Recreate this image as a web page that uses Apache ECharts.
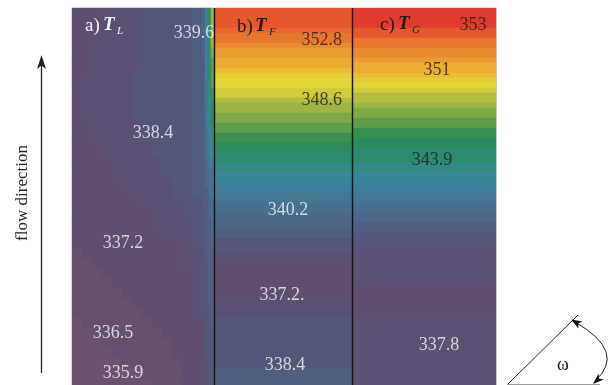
<!DOCTYPE html>
<html>
<head>
<meta charset="utf-8">
<script src="https://cdn.jsdelivr.net/npm/echarts@6/dist/echarts.min.js"></script>
<style>
html, body { margin: 0; padding: 0; background: #ffffff; }
#chart { width: 611px; height: 385px; }
</style>
</head>
<body>
<div id="chart"></div>
<script>
// Contour levels (K) and the fill colour of each band, lowest band first.
const levelEdges = [330, 336.3, 336.9, 337.6, 338.3, 339.0, 339.7, 340.1, 340.7, 341.3,
  342.0, 342.8, 343.6, 344.4, 345.2, 346.0, 346.8, 347.5, 348.2, 348.8,
  349.3, 349.8, 350.3, 350.8, 351.3, 351.8, 352.3, 352.85, 352.9, 352.95, 360];
const levelColors = ['#6e5170', '#674f70', '#604e72', '#5a5175', '#54577a', '#505e82',
  '#4c6789', '#486f90', '#437795', '#3e7f9d', '#37879b', '#318a88', '#2d8b72', '#2d8c5e',
  '#3a914f', '#5e9e4b', '#7fa947', '#9bb443', '#b4bd40', '#cfcb3b', '#e3d636', '#e6cc34',
  '#e9bd32', '#ebac31', '#eb9c30', '#ea8a2f', '#e8772e', '#e7672e', '#e5582e', '#e03c2e'];

// T_L: liquid temperature, rows from top of the channel downward, columns left to right.
const fieldL = [
  [337.1, 337.3, 337.5, 337.7, 337.8, 338.0, 338.2, 338.4, 338.5, 338.6, 338.7, 338.9, 339.2],
  [337.1, 337.3, 337.5, 337.7, 337.8, 338.0, 338.2, 338.4, 338.5, 338.6, 338.7, 338.9, 339.3],
  [337.1, 337.3, 337.5, 337.7, 337.8, 338.0, 338.2, 338.4, 338.5, 338.6, 338.7, 338.9, 339.6],
  [337.2, 337.5, 337.7, 337.8, 337.9, 338.0, 338.2, 338.4, 338.5, 338.6, 338.7, 338.9, 339.2],
  [337.2, 337.5, 337.7, 337.8, 337.9, 338.0, 338.2, 338.4, 338.5, 338.6, 338.7, 338.9, 339.2],
  [337.2, 337.5, 337.7, 337.8, 337.9, 338.1, 338.2, 338.4, 338.5, 338.6, 338.7, 338.9, 339.2],
  [337.2, 337.5, 337.7, 337.8, 338.0, 338.2, 338.3, 338.4, 338.5, 338.6, 338.7, 338.9, 339.2],
  [337.4, 337.6, 337.7, 337.8, 338.0, 338.2, 338.3, 338.4, 338.5, 338.6, 338.7, 338.9, 339.1],
  [337.4, 337.6, 337.7, 337.8, 338.0, 338.2, 338.3, 338.4, 338.5, 338.6, 338.7, 338.9, 339.1],
  [337.4, 337.6, 337.7, 337.8, 338.0, 338.2, 338.3, 338.4, 338.5, 338.6, 338.7, 338.9, 339.1],
  [337.4, 337.6, 337.7, 337.8, 338.0, 338.1, 338.3, 338.4, 338.5, 338.6, 338.7, 338.9, 339.1],
  [337.3, 337.5, 337.7, 337.8, 337.9, 338.1, 338.2, 338.4, 338.5, 338.6, 338.7, 338.9, 339.1],
  [337.3, 337.5, 337.7, 337.8, 337.9, 338.1, 338.2, 338.3, 338.4, 338.6, 338.7, 338.9, 339.1],
  [337.1, 337.3, 337.5, 337.7, 337.8, 337.9, 338.1, 338.2, 338.4, 338.5, 338.6, 338.8, 339.1],
  [337.1, 337.3, 337.5, 337.7, 337.8, 337.9, 338.1, 338.2, 338.4, 338.5, 338.6, 338.8, 339.1],
  [337.0, 337.2, 337.4, 337.5, 337.7, 337.8, 338.0, 338.1, 338.2, 338.4, 338.5, 338.7, 339.0],
  [337.0, 337.2, 337.4, 337.5, 337.7, 337.8, 338.0, 338.1, 338.2, 338.4, 338.5, 338.7, 339.0],
  [337.0, 337.1, 337.3, 337.4, 337.5, 337.7, 337.8, 338.0, 338.1, 338.2, 338.4, 338.6, 339.0],
  [337.0, 337.1, 337.2, 337.3, 337.4, 337.5, 337.7, 337.8, 338.0, 338.2, 338.4, 338.6, 339.0],
  [337.0, 337.1, 337.2, 337.3, 337.4, 337.5, 337.5, 337.7, 337.9, 338.0, 338.2, 338.4, 338.7],
  [337.0, 337.1, 337.2, 337.2, 337.3, 337.4, 337.5, 337.5, 337.7, 337.9, 338.1, 338.4, 338.6],
  [337.0, 337.0, 337.1, 337.2, 337.3, 337.4, 337.4, 337.5, 337.7, 337.8, 338.0, 338.2, 338.5],
  [337.0, 337.0, 337.1, 337.2, 337.2, 337.3, 337.4, 337.5, 337.5, 337.7, 337.9, 338.1, 338.4],
  [336.9, 337.0, 337.1, 337.1, 337.2, 337.2, 337.3, 337.3, 337.4, 337.5, 337.5, 337.8, 338.3],
  [336.8, 336.9, 337.0, 337.1, 337.1, 337.2, 337.2, 337.3, 337.3, 337.4, 337.5, 337.7, 338.0],
  [336.7, 336.8, 336.9, 337.0, 337.1, 337.1, 337.2, 337.2, 337.3, 337.4, 337.5, 337.7, 338.0],
  [336.6, 336.7, 336.8, 336.9, 337.0, 337.1, 337.1, 337.2, 337.3, 337.3, 337.4, 337.5, 337.8],
  [336.5, 336.6, 336.7, 336.8, 336.9, 337.0, 337.1, 337.1, 337.2, 337.3, 337.4, 337.5, 337.8],
  [336.5, 336.6, 336.6, 336.7, 336.8, 336.9, 337.0, 337.1, 337.2, 337.2, 337.3, 337.5, 337.7],
  [336.4, 336.5, 336.6, 336.6, 336.7, 336.8, 336.9, 337.0, 337.1, 337.2, 337.3, 337.5, 337.7],
  [336.4, 336.4, 336.5, 336.6, 336.6, 336.7, 336.8, 336.9, 337.0, 337.1, 337.2, 337.4, 337.7],
  [336.2, 336.3, 336.4, 336.5, 336.5, 336.6, 336.7, 336.8, 336.9, 337.0, 337.1, 337.3, 337.5],
  [336.1, 336.2, 336.3, 336.4, 336.5, 336.6, 336.6, 336.7, 336.8, 336.9, 337.0, 337.2, 337.4],
  [336.0, 336.1, 336.2, 336.3, 336.4, 336.5, 336.6, 336.6, 336.7, 336.8, 336.9, 337.1, 337.3],
  [335.9, 336.0, 336.1, 336.2, 336.3, 336.4, 336.5, 336.6, 336.7, 336.8, 336.9, 337.1, 337.3],
  [335.8, 335.9, 336.0, 336.1, 336.2, 336.3, 336.4, 336.5, 336.6, 336.7, 336.8, 337.0, 337.2],
  [335.7, 335.8, 335.8, 335.9, 335.9, 335.9, 336.1, 336.3, 336.4, 336.6, 336.7, 336.9, 337.1],
  [335.7, 335.7, 335.8, 335.8, 335.9, 335.9, 336.0, 336.2, 336.3, 336.5, 336.7, 336.9, 337.1]
];

// T_L in the thin layer next to the wall (four columns, same rows as fieldL).
const fieldWall = [
  [339.8, 341.6, 344.4, 348.0], [339.8, 341.6, 344.4, 347.9], [339.8, 341.6, 344.3, 347.8],
  [339.8, 341.6, 344.2, 347.6], [339.7, 341.5, 344.0, 347.2],
  [339.6, 341.3, 343.7, 346.6], [339.6, 341.3, 343.6, 346.4], [339.5, 341.2, 343.4, 346.0],
  [339.5, 341.1, 343.2, 345.5],
  [339.4, 340.9, 342.8, 344.9], [339.4, 340.8, 342.6, 344.6], [339.4, 340.7, 342.3, 344.0],
  [339.3, 340.5, 341.9, 343.3], [339.3, 340.3, 341.6, 342.8], [339.3, 340.2, 341.3, 342.3],
  [339.2, 339.9, 340.8, 341.6], [339.2, 339.8, 340.5, 341.2], [339.2, 339.7, 340.3, 341.0],
  [339.1, 339.6, 340.2, 340.7], [339.1, 339.5, 340.0, 340.4],
  [338.9, 339.3, 339.8, 340.2], [338.9, 339.2, 339.6, 340.0], [338.9, 339.2, 339.5, 339.9],
  [338.8, 339.1, 339.4, 339.7], [338.8, 339.0, 339.3, 339.6],
  [338.6, 338.9, 339.2, 339.4], [338.5, 338.8, 339.1, 339.3], [338.5, 338.8, 339.1, 339.3],
  [338.4, 338.7, 339.0, 339.2], [338.4, 338.7, 339.0, 339.2], [338.3, 338.6, 338.9, 339.1],
  [338.2, 338.5, 338.8, 339.0],
  [337.9, 338.4, 338.6, 338.7], [337.8, 338.3, 338.5, 338.6], [337.7, 338.3, 338.5, 338.6],
  [337.7, 338.2, 338.4, 338.5], [337.6, 338.2, 338.4, 338.5], [337.6, 338.1, 338.3, 338.4]
];

// T_F: film temperature along the channel, top row first.
const profileF = [
  352.93, 352.93, 352.92, 352.91, 352.87, 352.7, 352.8, 352.1, 351.6, 351.4,
  351.1, 350.9, 350.5, 350.0, 349.6, 349.4, 349.1, 348.9, 348.6, 347.9,
  347.7, 347.2, 347.0, 346.5, 346.2, 345.7, 345.4, 344.9, 344.6, 344.1,
  343.8, 343.3, 343.0, 342.5, 342.2, 341.7, 341.4, 341.1, 340.8, 340.4,
  340.2, 339.95, 339.85, 339.75, 339.5, 339.2, 338.9, 338.7, 338.4, 338.1,
  337.8, 337.5, 337.4, 337.3, 337.3, 337.25, 337.25, 337.2, 337.7, 337.8,
  337.9, 338.1, 338.4, 338.5, 338.5, 338.6, 338.6, 338.6, 338.5, 338.5,
  338.5, 338.4, 339.1, 339.2, 339.3, 339.4
];

// T_G: gas temperature along the channel, top row first.
const profileG = [
  353.2, 353.2, 353.1, 353.0, 352.93, 352.91, 352.7, 352.5, 352.2, 351.9,
  351.5, 351.2, 351.0, 350.5, 350.0, 349.5, 349.0, 348.6, 348.3, 347.9,
  347.3, 347.0, 346.5, 346.1, 345.7, 345.3, 344.9, 344.5, 344.2, 344.0,
  343.9, 343.3, 343.0, 342.5, 342.1, 341.7, 341.4, 341.1, 340.8, 340.5,
  340.2, 339.95, 339.8, 339.5, 339.2, 338.8, 338.6, 338.4, 338.1, 338.0,
  337.9, 337.8, 337.8, 337.7, 337.7, 337.5, 337.4, 337.3, 337.3, 337.3,
  337.4, 337.5, 337.7, 337.8, 337.8, 337.9, 337.9, 337.8, 337.9, 338.0,
  338.0, 338.1, 338.1, 338.2, 338.2, 338.2
];

// Contour labels printed on each panel: [text, level].
const labelsL = [['339.6', 339.6], ['338.4', 338.4], ['337.2', 337.2], ['336.5', 336.5], ['335.9', 335.9]];
const labelsF = [['352.8', 352.8], ['348.6', 348.6], ['340.2', 340.2], ['337.2.', 337.2], ['338.4', 338.4]];
const labelsG = [['353', 353], ['351', 351], ['343.9', 343.9], ['337.8', 337.8]];

// ---- layout ----
const FONT = '"Liberation Serif", "Times New Roman", serif';
const DARK = '#1e1e1e';
const LIGHT = '#f4f4f4';
// where each label sits: [percent across panel, row index, vertical nudge px, colour]
const placeL = [[93.8, 2, -2, LIGHT], [62.3, 12, -5, LIGHT], [39.2, 23, 4, LIGHT], [31.5, 32, 1, LIGHT], [39.2, 36, -2, LIGHT]];
const placeF = [[78, 6, 1.5, DARK], [78, 18, 2.5, DARK], [53.3, 40, -2.5, LIGHT], [48.9, 57, 1.5, LIGHT], [51.1, 71, 2.5, LIGHT]];
const placeG = [[83.9, 3, -2.5, DARK], [58.7, 12, -1.5, DARK], [55.2, 30, -2.5, DARK], [60.1, 67, -0.5, LIGHT]];

const idx = n => Array.from({ length: n }, (_, i) => String(i));
const gridCells = rows => {
  const out = [];
  rows.forEach((row, r) => row.forEach((v, c) => out.push([c, r, v])));
  return out;
};
const profileCells = p => p.map((v, r) => [0, r, v]);

const gridBase = { outerBoundsMode: 'none', containLabel: false, show: false };
const grids = [
  { ...gridBase, left: 72, top: 8, width: 130, height: 380 },   // T_L bulk
  { ...gridBase, left: 202, top: 8, width: 12, height: 380 },   // T_L wall layer
  { ...gridBase, left: 215, top: 8, width: 137, height: 380 },  // T_F
  { ...gridBase, left: 353, top: 8, width: 143, height: 380 }   // T_G
];

const catX = (g, n) => ({ type: 'category', gridIndex: g, data: idx(n), show: false });
const catY = (g, n) => ({ type: 'category', gridIndex: g, data: idx(n), inverse: true, show: false });
const valX = g => ({ type: 'value', gridIndex: g, min: 0, max: 100, show: false });

const xAxes = [catX(0, 13), catX(1, 4), catX(2, 1), catX(3, 1), valX(0), valX(2), valX(3)];
const yAxes = [catY(0, fieldL.length), catY(1, fieldWall.length), catY(2, profileF.length), catY(3, profileG.length)];

const heat = (xi, yi, data) => ({
  type: 'heatmap', xAxisIndex: xi, yAxisIndex: yi, data,
  itemStyle: { borderWidth: 0 }, emphasis: { disabled: true }, silent: true, progressive: 0
});

const labelSeries = (xi, yi, labels, place) => ({
  type: 'scatter', xAxisIndex: xi, yAxisIndex: yi, symbolSize: 1, silent: true, z: 10,
  clip: false,
  itemStyle: { color: 'rgba(0,0,0,0)' },
  labelLayout: { hideOverlap: false },
  data: labels.map(([text, v], i) => ({
    name: text,
    value: [place[i][0], place[i][1], v],
    label: {
      show: true, position: 'inside', offset: [0, place[i][2]], formatter: '{b}',
      color: place[i][3], fontFamily: FONT, fontSize: 18, textBorderWidth: 0
    }
  }))
});

// panel captions: "a) T_L" etc.
function caption(x, y, letter, sub, color) {
  return [
    { type: 'text', z: 100, x: x, y: y, style: { text: letter + ')', font: '19px ' + FONT, fill: color, verticalAlign: 'middle' } },
    { type: 'text', z: 100, x: x + 18, y: y - 0.5, style: { text: 'T', font: 'italic bold 19px ' + FONT, fill: color, verticalAlign: 'middle' } },
    { type: 'text', z: 100, x: x + 32, y: y + 5.5, style: { text: sub, font: 'italic 11px ' + FONT, fill: color, verticalAlign: 'middle' } }
  ];
}

function arrowHead(tipX, tipY, dx, dy, len, half, color) {
  const n = Math.hypot(dx, dy); const ux = dx / n, uy = dy / n;
  const bx = tipX - ux * len, by = tipY - uy * len;
  return { type: 'polygon', z: 100, shape: { points: [[tipX, tipY], [bx - uy * half, by + ux * half], [tipX - ux * len * 0.75, tipY - uy * len * 0.75], [bx + uy * half, by - ux * half]] }, style: { fill: color } };
}

const arcP0 = [575, 322], arcC = [627, 352], arcP2 = [595, 381];

const graphics = [
  // panel separators and outer edge
  { type: 'line', z: 100, shape: { x1: 214.5, y1: 8, x2: 214.5, y2: 385 }, style: { stroke: '#111', lineWidth: 1.4 } },
  { type: 'line', z: 100, shape: { x1: 352.5, y1: 8, x2: 352.5, y2: 385 }, style: { stroke: '#111', lineWidth: 1.4 } },
  { type: 'line', z: 100, shape: { x1: 496.5, y1: 8, x2: 496.5, y2: 385 }, style: { stroke: '#c8c8c8', lineWidth: 1 } },
  ...caption(85, 26, 'a', 'L', LIGHT),
  ...caption(237, 27, 'b', 'F', DARK),
  ...caption(380, 25, 'c', 'G', DARK),
  // flow direction arrow
  { type: 'line', z: 100, shape: { x1: 41.5, y1: 373, x2: 41.5, y2: 64 }, style: { stroke: '#222', lineWidth: 1.3 } },
  arrowHead(41.5, 55, 0, -1, 14, 4.5, '#222'),
  { type: 'text', z: 100, x: 23, y: 193, rotation: Math.PI / 2, style: { text: 'flow direction', font: '17px ' + FONT, fill: '#222', align: 'center', verticalAlign: 'middle' } },
  // inclination angle sketch
  { type: 'line', z: 100, shape: { x1: 507, y1: 385, x2: 578, y2: 315 }, style: { stroke: '#222', lineWidth: 1 } },
  { type: 'line', z: 100, shape: { x1: 507, y1: 384.5, x2: 600, y2: 384.5 }, style: { stroke: '#9a9a9a', lineWidth: 1 } },
  { type: 'bezierCurve', z: 100, shape: { x1: arcP0[0], y1: arcP0[1], x2: arcP2[0], y2: arcP2[1], cpx1: arcC[0], cpy1: arcC[1] }, style: { stroke: '#222', lineWidth: 1, fill: null } },
  arrowHead(571, 319.5, arcP0[0] - arcC[0], arcP0[1] - arcC[1], 11, 4, '#111'),
  arrowHead(593, 384, arcP2[0] - arcC[0], arcP2[1] - arcC[1], 11, 4, '#111'),
  { type: 'text', z: 100, x: 563, y: 365, style: { text: 'ω', font: '18px ' + FONT, fill: '#222', align: 'center', verticalAlign: 'middle' } }
];

const chart = echarts.init(document.getElementById('chart'), null, { renderer: 'canvas' });
chart.setOption({
  animation: false,
  backgroundColor: '#ffffff',
  grid: grids,
  xAxis: xAxes,
  yAxis: yAxes,
  visualMap: {
    type: 'piecewise', show: false, seriesIndex: [0, 1, 2, 3], dimension: 2,
    pieces: levelColors.map((color, i) => ({ gte: levelEdges[i], lt: levelEdges[i + 1], color }))
  },
  series: [
    heat(0, 0, gridCells(fieldL)),
    heat(1, 1, gridCells(fieldWall)),
    heat(2, 2, profileCells(profileF)),
    heat(3, 3, profileCells(profileG)),
    labelSeries(4, 0, labelsL, placeL),
    labelSeries(5, 2, labelsF, placeF),
    labelSeries(6, 3, labelsG, placeG)
  ],
  graphic: { elements: graphics }
});
</script>
</body>
</html>
